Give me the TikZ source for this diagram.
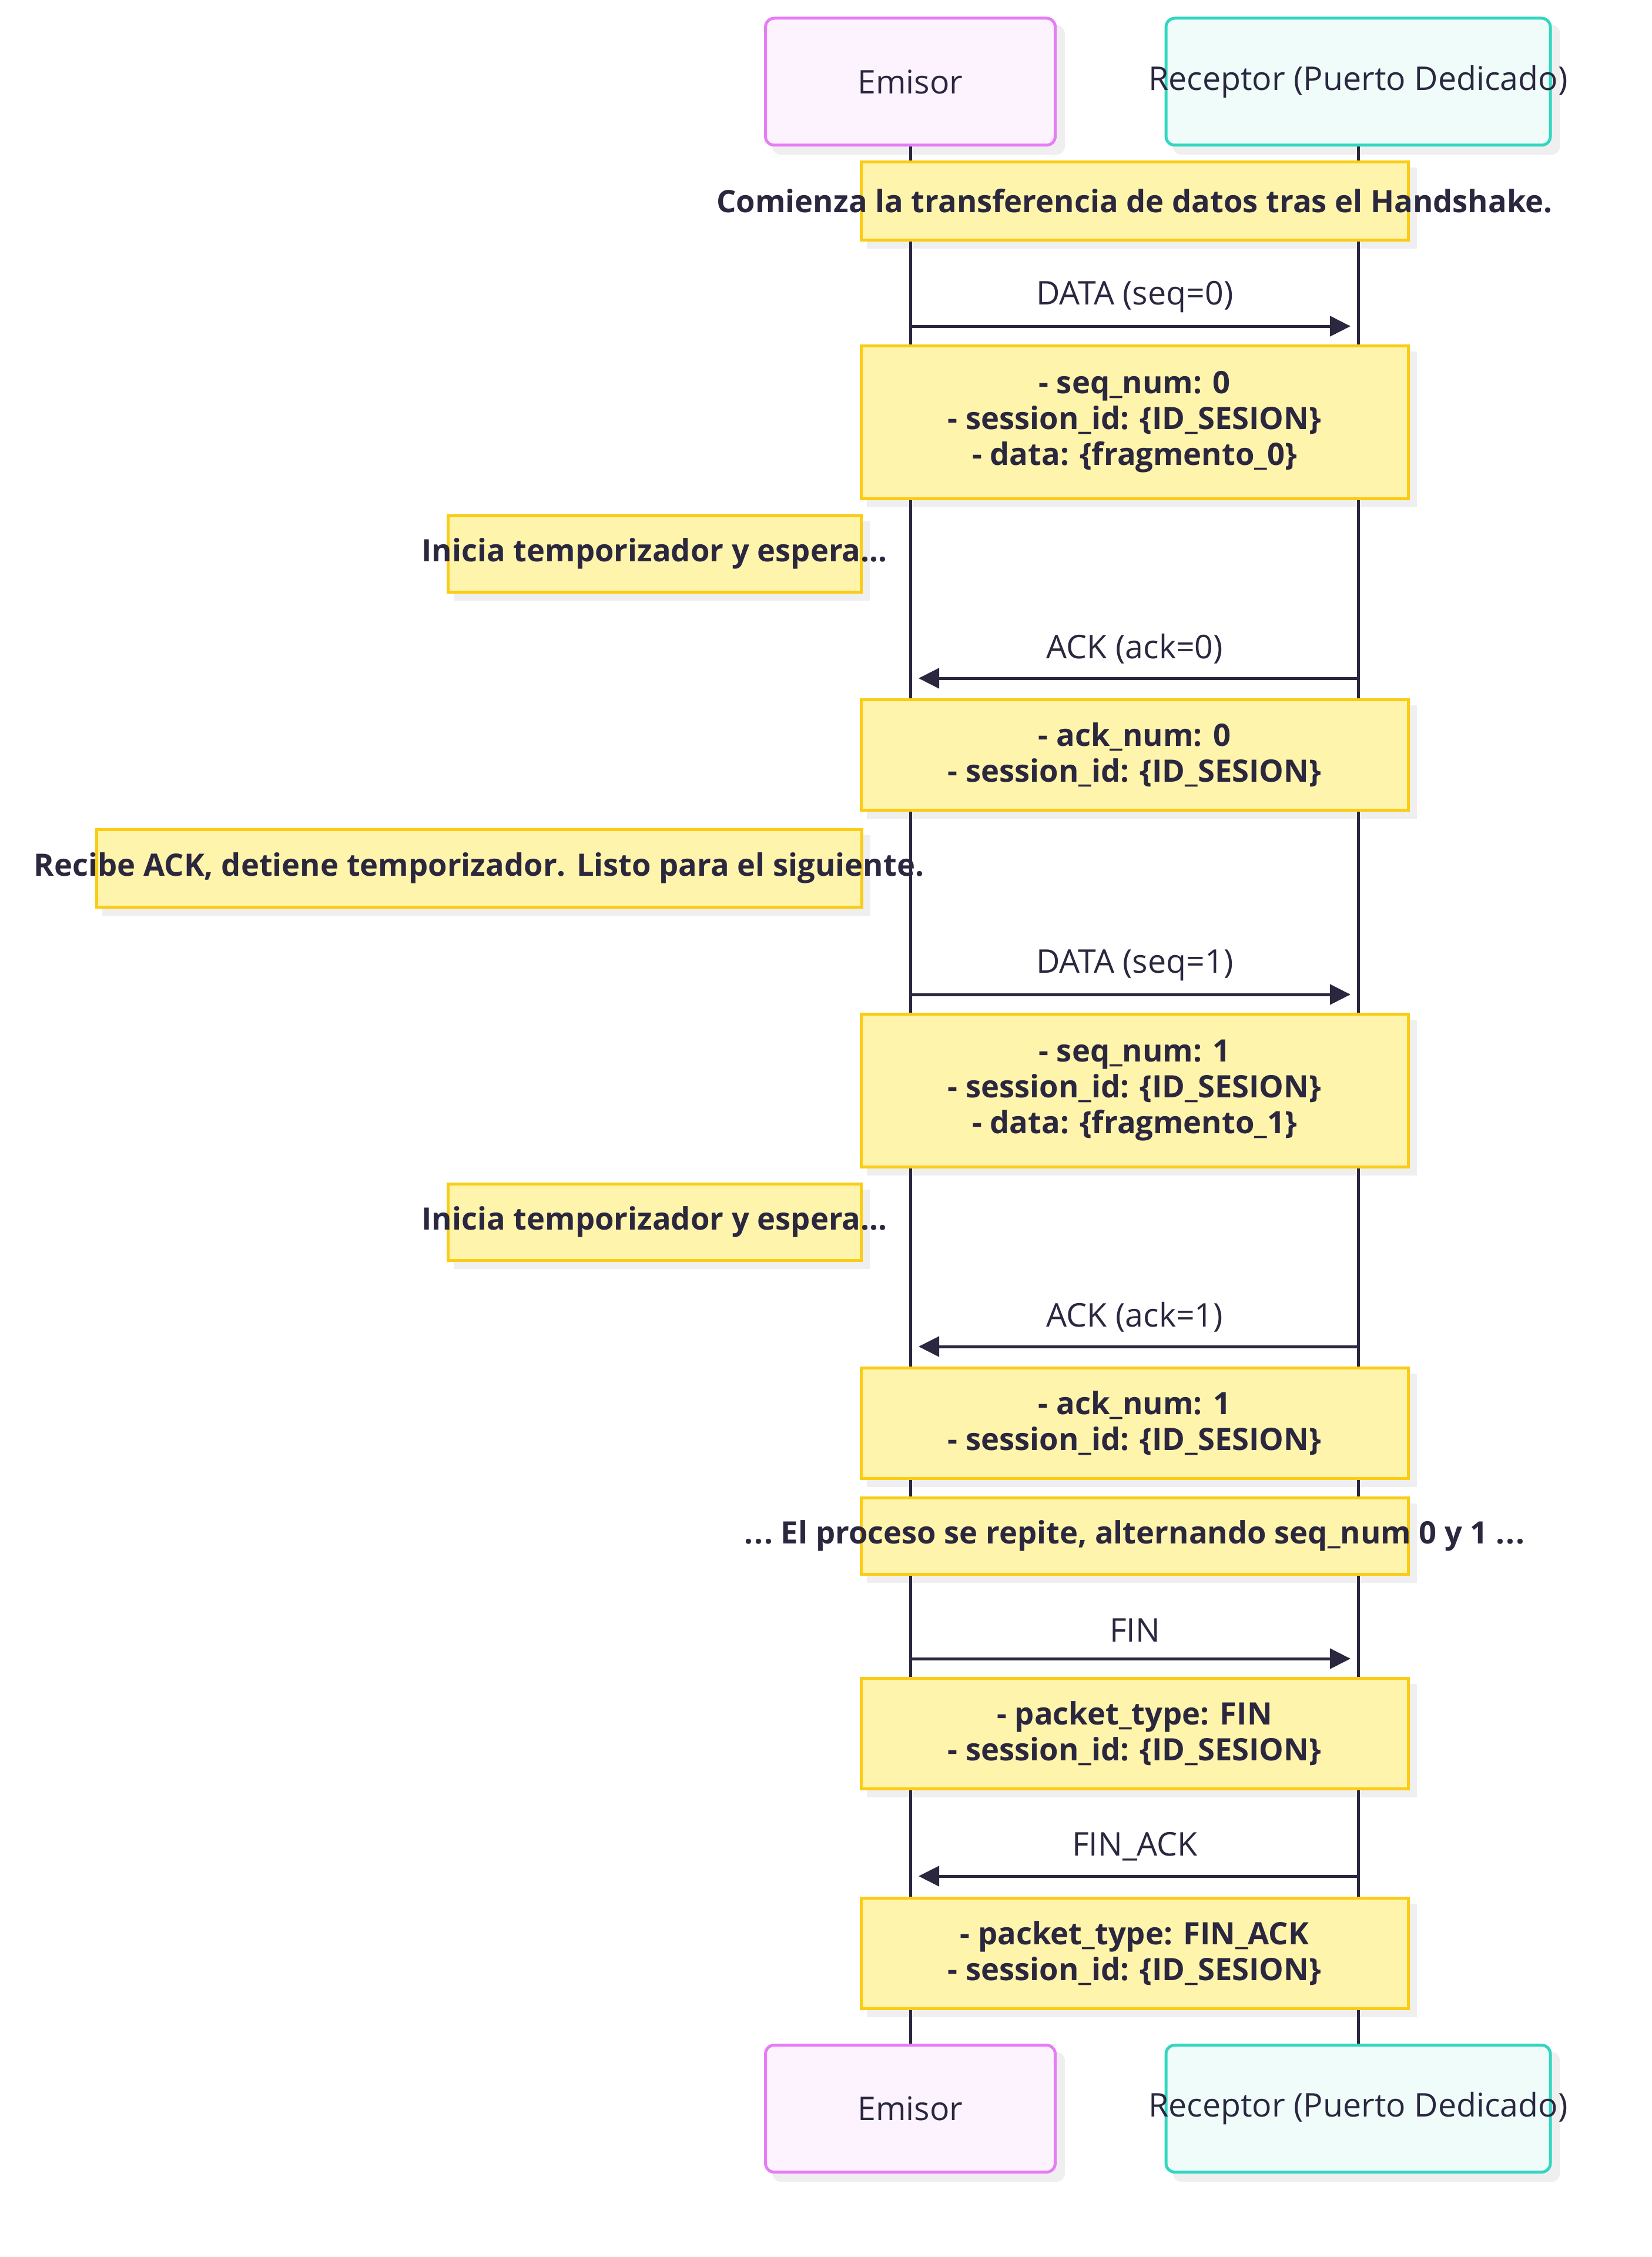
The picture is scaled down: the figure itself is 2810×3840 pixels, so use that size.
\documentclass[tikz,border=0pt]{standalone}
\usepackage{fontspec}
\setmainfont{Open Sans}
\usetikzlibrary{arrows.meta,calc}
\definecolor{ink}{HTML}{2A273F}
\definecolor{emstroke}{HTML}{E87CF8}
\definecolor{emfill}{HTML}{FDF3FE}
\definecolor{rcstroke}{HTML}{33D6C0}
\definecolor{rcfill}{HTML}{EFFCFA}
\definecolor{notestroke}{HTML}{FACC15}
\definecolor{notefill}{HTML}{FEF4AC}
\definecolor{shadowc}{HTML}{EFEFEF}
\pgfdeclarelayer{shadowlayer}
\pgfdeclarelayer{lifelayer}
\pgfsetlayers{shadowlayer,lifelayer,main}
\begin{document}
\begin{tikzpicture}[x=1pt,y=-1pt,
  txt/.style={text=ink,font=\fontsize{55.5}{61}\selectfont,inner sep=0pt},
  btxt/.style={text=ink,font=\fontsize{52.5}{61}\selectfont\bfseries,inner sep=0pt,align=center},
  actorbox/.style={draw,line width=5pt,rounded corners=15pt,minimum width=#1,minimum height=216pt,inner sep=0pt},
  emisor/.style={actorbox=493pt,draw=emstroke,fill=emfill},
  receptor/.style={actorbox=654pt,draw=rcstroke,fill=rcfill},
  notebox/.style={draw=notestroke,fill=notefill,line width=5pt,inner sep=0pt},
  life/.style={draw=ink,line width=5pt},
  msg/.style={draw=ink,line width=5pt,-{Triangle[length=35pt,width=34pt]}},
]
\path[use as bounding box] (0,0) rectangle (2810,3840);

% actors
\node[emisor] (eTop) at (1549,139) {};
\node[txt] at (eTop) {Emisor};
\node[receptor] (rTop) at (2311,139) {};
\node[txt] at (rTop) {Receptor (Puerto Dedicado)};
\node[emisor] (eBot) at (1549,3587.5) {};
\node[txt] at (eBot) {Emisor};
\node[receptor] (rBot) at (2311,3587.5) {};
\node[txt] at (rBot) {Receptor (Puerto Dedicado)};

% notes
\node[notebox,minimum width=931pt,minimum height=132pt] (n1) at (1930.5,342) {};
\node[btxt] at (n1) {Comienza la transferencia de datos tras el Handshake.};

\node[notebox,minimum width=931pt,minimum height=260pt] (n2) at (1930.5,718) {};
\node[btxt] at (n2) {- seq\_num: 0\\- session\_id: \{ID\_SESION\}\\- data: \{fragmento\_0\}};

\node[notebox,minimum width=703pt,minimum height=130pt] (n3) at (1113.5,942) {};
\node[btxt] at (n3) {Inicia temporizador y espera...};

\node[notebox,minimum width=931pt,minimum height=188pt] (n4) at (1930.5,1284) {};
\node[btxt] at (n4) {- ack\_num: 0\\- session\_id: \{ID\_SESION\}};

\node[notebox,minimum width=1302pt,minimum height=132pt] (n5) at (815,1477) {};
\node[btxt] at (n5) {Recibe ACK, detiene temporizador. Listo para el siguiente.};

\node[notebox,minimum width=931pt,minimum height=260pt] (n6) at (1930.5,1855) {};
\node[btxt] at (n6) {- seq\_num: 1\\- session\_id: \{ID\_SESION\}\\- data: \{fragmento\_1\}};

\node[notebox,minimum width=703pt,minimum height=130pt] (n7) at (1113.5,2079) {};
\node[btxt] at (n7) {Inicia temporizador y espera...};

\node[notebox,minimum width=931pt,minimum height=188pt] (n8) at (1930.5,2421.5) {};
\node[btxt] at (n8) {- ack\_num: 1\\- session\_id: \{ID\_SESION\}};

\node[notebox,minimum width=931pt,minimum height=130pt] (n9) at (1930.5,2613) {};
\node[btxt] at (n9) {.\kern2pt.\kern2pt.\ El proceso se repite, alternando seq\_num 0 y 1 .\kern2pt.\kern2pt.};

\node[notebox,minimum width=931pt,minimum height=188pt] (n10) at (1930.5,2949) {};
\node[btxt] at (n10) {- packet\_type: FIN\\- session\_id: \{ID\_SESION\}};

\node[notebox,minimum width=931pt,minimum height=188pt] (n11) at (1930.5,3323) {};
\node[btxt] at (n11) {- packet\_type: FIN\_ACK\\- session\_id: \{ID\_SESION\}};

% shadows and lifelines
\begin{pgfonlayer}{shadowlayer}
  \foreach \a in {eTop,rTop,eBot,rBot}{
    \fill[shadowc,rounded corners=15pt] ($(\a.south west)+(14,14)$) rectangle ($(\a.north east)+(14,14)$);
  }
  \foreach \n in {n1,n2,n3,n4,n5,n6,n7,n8,n9,n10,n11}{
    \fill[shadowc] ($(\n.south west)+(12,12)$) rectangle ($(\n.north east)+(12,12)$);
  }
\end{pgfonlayer}
\begin{pgfonlayer}{lifelayer}
  \draw[life] (eTop) -- (eBot);
  \draw[life] (rTop) -- (rBot);
\end{pgfonlayer}

% messages
\coordinate (m1s) at (1550,555);  \coordinate (m1e) at (2298,555);
\draw[msg] (m1s) -- (m1e);
\node[txt] (l1) at (1931,505) {DATA (seq=0)};

\coordinate (m2s) at (2312,1154); \coordinate (m2e) at (1563,1154);
\draw[msg] (m2s) -- (m2e);
\node[txt] (l2) at (1931,1104) {ACK (ack=0)};

\coordinate (m3s) at (1550,1692); \coordinate (m3e) at (2298,1692);
\draw[msg] (m3s) -- (m3e);
\node[txt] (l3) at (1931,1642) {DATA (seq=1)};

\coordinate (m4s) at (2312,2291); \coordinate (m4e) at (1563,2291);
\draw[msg] (m4s) -- (m4e);
\node[txt] (l4) at (1931,2241) {ACK (ack=1)};

\coordinate (m5s) at (1550,2822); \coordinate (m5e) at (2298,2822);
\draw[msg] (m5s) -- (m5e);
\node[txt] (l5) at (1931,2774) {FIN};

\coordinate (m6s) at (2312,3192); \coordinate (m6e) at (1563,3192);
\draw[msg] (m6s) -- (m6e);
\node[txt] (l6) at (1931,3142) {FIN\_ACK};
\end{tikzpicture}
\end{document}
